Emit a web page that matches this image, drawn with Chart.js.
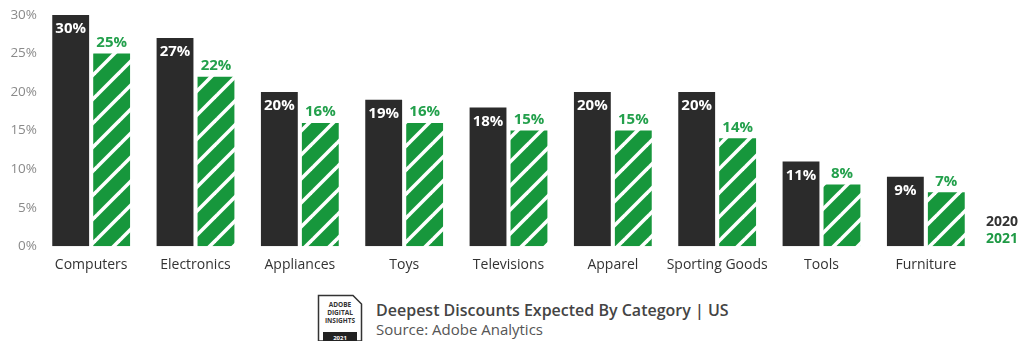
<!DOCTYPE html>
<html>
<head>
<meta charset="utf-8">
<script src="https://cdn.jsdelivr.net/npm/chart.js@4"></script>
<style>
  html, body { margin:0; padding:0; background:#fff; width:1023px; height:341px; overflow:hidden; font-family:"Open Sans", sans-serif; }
  #wrap { position:absolute; left:0; top:0; width:1023px; height:283px; }
  .leg { position:absolute; left:986px; font:700 14px "Open Sans", sans-serif; line-height:16px; }
  #title { position:absolute; left:376px; top:300px; font:600 16px "Open Sans", sans-serif; color:#444; line-height:20px; white-space:nowrap; }
  #source { position:absolute; left:376px; top:319px; font:400 15px "Open Sans", sans-serif; color:#555; line-height:20px; white-space:nowrap; }
  #logo { position:absolute; left:317px; top:294px; }
</style>
</head>
<body>
<div id="wrap"><canvas id="c" width="1023" height="283"></canvas></div>
<div class="leg" style="top:213px;color:#333;">2020</div>
<div class="leg" style="top:230px;color:#1f9a45;">2021</div>
<svg id="logo" width="46" height="47" viewBox="0 0 46 47">
  <polygon points="1.5,1.5 36,1.5 44.5,10 44.5,47 1.5,47" fill="#fff" stroke="#333" stroke-width="1.5"/>
  <text x="23" y="13" text-anchor="middle" font-family="Open Sans" font-weight="700" font-size="6.5" fill="#333">ADOBE</text>
  <text x="23" y="21" text-anchor="middle" font-family="Open Sans" font-weight="700" font-size="6.5" fill="#333">DIGITAL</text>
  <text x="23" y="29" text-anchor="middle" font-family="Open Sans" font-weight="700" font-size="6.5" fill="#333">INSIGHTS</text>
  <rect x="6" y="38" width="34" height="9" fill="#222"/>
  <text x="23" y="45.5" text-anchor="middle" font-family="Open Sans" font-weight="700" font-size="6" fill="#fff">2021</text>
</svg>
<div id="title">Deepest Discounts Expected By Category | US</div>
<div id="source">Source: Adobe Analytics</div>
<script>
const categories = ["Computers","Electronics","Appliances","Toys","Televisions","Apparel","Sporting Goods","Tools","Furniture"];
const values2020 = [30, 27, 20, 19, 18, 20, 20, 11, 9];
const values2021 = [25, 22, 16, 16, 15, 15, 14, 8, 7];
const seriesNames = ["2020", "2021"];
const yTicks = [0, 5, 10, 15, 20, 25, 30];

const DARK = "#2b2b2b";
const GREEN = "#17973c";
const LABEL_GREEN = "#23a04c";

function stripePattern() {
  const s = 24;
  const p = document.createElement("canvas");
  p.width = s; p.height = s;
  const g = p.getContext("2d");
  g.fillStyle = GREEN;
  g.fillRect(0, 0, s, s);
  g.strokeStyle = "#ffffff";
  g.lineWidth = 3.6;
  g.lineCap = "square";
  [[-s, s * 2, s * 2, -s], [-s, s, s, -s], [0, s * 2, s * 2, 0]].forEach(function (l) {
    g.beginPath(); g.moveTo(l[0], l[1]); g.lineTo(l[2], l[3]); g.stroke();
  });
  return g.createPattern(p, "repeat");
}

const labelPlugin = {
  id: "barLabels",
  afterDatasetsDraw(chart) {
    const ctx = chart.ctx;
    ctx.save();
    ctx.textAlign = "center";
    ctx.textBaseline = "middle";
    ctx.font = "700 15px 'Open Sans', sans-serif";
    chart.data.datasets.forEach(function (ds, di) {
      const meta = chart.getDatasetMeta(di);
      meta.data.forEach(function (bar, i) {
        const txt = ds.data[i] + "%";
        if (di === 0) {
          ctx.fillStyle = "#ffffff";
          ctx.fillText(txt, bar.x, bar.y + 14);
        } else {
          ctx.fillStyle = LABEL_GREEN;
          ctx.fillText(txt, bar.x, bar.y - 11);
        }
      });
    });
    ctx.restore();
  }
};

new Chart(document.getElementById("c"), {
  type: "bar",
  data: {
    labels: categories,
    datasets: [
      { label: seriesNames[0], data: values2020, backgroundColor: DARK, borderWidth: 0 },
      { label: seriesNames[1], data: values2021, backgroundColor: stripePattern(), borderWidth: 0 }
    ]
  },
  options: {
    responsive: false,
    animation: false,
    devicePixelRatio: 1,
    layout: { padding: { top: 15, right: 45, left: 0, bottom: 0 } },
    plugins: { legend: { display: false }, tooltip: { enabled: false } },
    datasets: { bar: { categoryPercentage: 0.785, barPercentage: 0.9 } },
    scales: {
      x: {
        grid: { display: false, drawTicks: false },
        border: { display: false },
        ticks: { color: "#333", font: { family: "Open Sans", size: 14 }, padding: 10, maxRotation: 0, autoSkip: false }
      },
      y: {
        min: 0, max: 30,
        afterBuildTicks(axis) { axis.ticks = yTicks.map(function (v) { return { value: v }; }); },
        afterFit(axis) { axis.width = 39; },
        grid: { display: false, drawTicks: false },
        border: { display: false },
        ticks: { color: "#8a8a8a", font: { family: "Open Sans", size: 13.5 }, padding: 2, callback: function (v) { return v + "%"; } }
      }
    }
  },
  plugins: [labelPlugin]
});
</script>
</body>
</html>
